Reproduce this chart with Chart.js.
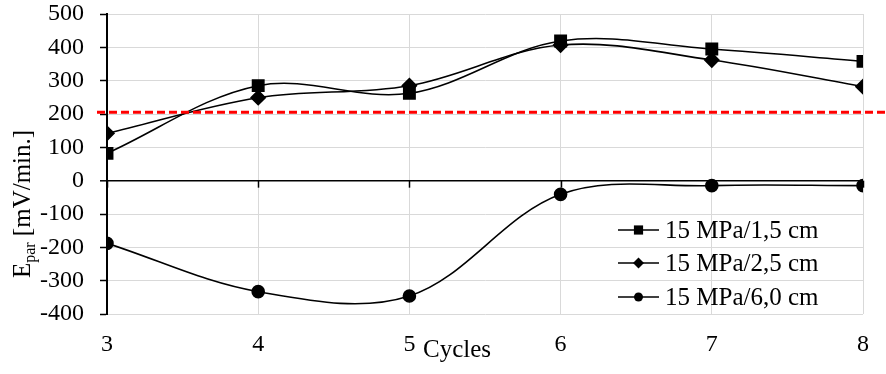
<!DOCTYPE html>
<html><head><meta charset="utf-8">
<script src="https://cdn.jsdelivr.net/npm/chart.js@4/dist/chart.umd.min.js"></script>
<style>html,body{margin:0;padding:0;background:#fff}#wrap{width:886px;height:374px}</style>
</head><body><div id="wrap"><canvas id="c" width="886" height="374"></canvas></div>
<script>
const cycles = [3, 4, 5, 6, 7, 8];
const seriesLabels = ['15 MPa/1,5 cm', '15 MPa/2,5 cm', '15 MPa/6,0 cm'];
const s15 = [82, 285, 262, 419, 395, 358];
const s25 = [142, 249, 285, 407, 362, 282];
const s60 = [-188, -333, -346, -41, -15, -15];
const threshold = 205;
const yTicks = [500, 400, 300, 200, 100, 0, -100, -200, -300, -400];
const xTitle = 'Cycles';
const yTitleMain = 'E', yTitleSub = 'par', yTitleRest = ' [mV/min.]';

const FONT = '"Liberation Serif", "Times New Roman", serif';
const FS = 24;
const FL = 25;
const styles = ['rect', 'rectRot', 'circle'];
const radii = [8, 7, 6];
const allSeries = [s15, s25, s60];

const datasets = allSeries.map((s, i) => ({
  label: seriesLabels[i],
  data: cycles.map((c, j) => ({x: c, y: s[j]})),
  borderColor: '#000', backgroundColor: '#000', borderWidth: 1.6,
  pointStyle: styles[i], pointRadius: radii[i], pointHoverRadius: radii[i],
  tension: 0.35, fill: false
}));

const extras = {
  id: 'extras',
  beforeDatasetsDraw(chart) {
    const ctx = chart.ctx, x = chart.scales.x, y = chart.scales.y;
    const y0 = y.getPixelForValue(0);
    ctx.save();
    ctx.strokeStyle = '#000'; ctx.lineWidth = 1.5;
    cycles.forEach(c => {
      const px = Math.round(x.getPixelForValue(c)) + 0.5;
      ctx.beginPath(); ctx.moveTo(px, y0); ctx.lineTo(px, y0 + 7); ctx.stroke();
    });
    ctx.restore();
  },
  afterDatasetsDraw(chart) {
    const ctx = chart.ctx, x = chart.scales.x, y = chart.scales.y;
    ctx.save();
    const yt = y.getPixelForValue(threshold);
    ctx.strokeStyle = '#ff0000'; ctx.lineWidth = 3; ctx.setLineDash([8, 4]);
    ctx.beginPath(); ctx.moveTo(x.left - 10, yt); ctx.lineTo(chart.width, yt); ctx.stroke();
    ctx.setLineDash([]);
    const lx0 = 618, lx1 = 659, ly = [230, 263, 297];
    ctx.font = FL + 'px ' + FONT; ctx.textBaseline = 'middle'; ctx.textAlign = 'left';
    datasets.forEach((d, i) => {
      ctx.strokeStyle = '#000'; ctx.lineWidth = 1.6;
      ctx.beginPath(); ctx.moveTo(lx0, ly[i]); ctx.lineTo(lx1, ly[i]); ctx.stroke();
      ctx.fillStyle = '#000';
      Chart.helpers.drawPoint(ctx, {pointStyle: styles[i], radius: radii[i] - 1.5, rotation: 0, borderWidth: 0}, (lx0 + lx1) / 2, ly[i]);
      ctx.fillStyle = '#000';
      ctx.fillText(d.label, 665, ly[i] + 1);
    });
    ctx.textAlign = 'center'; ctx.textBaseline = 'alphabetic';
    ctx.font = FL + 'px ' + FONT;
    ctx.fillText(xTitle, 457, 357);
    ctx.translate(30, 204); ctx.rotate(-Math.PI / 2);
    const fMain = FL + 'px ' + FONT, fSub = '16px ' + FONT;
    ctx.font = fMain; const wE = ctx.measureText(yTitleMain).width, wR = ctx.measureText(yTitleRest).width;
    ctx.font = fSub; const wS = ctx.measureText(yTitleSub).width;
    let sx = -(wE + wS + wR) / 2;
    ctx.textAlign = 'left';
    ctx.font = fMain; ctx.fillText(yTitleMain, sx, 0); sx += wE;
    ctx.font = fSub; ctx.fillText(yTitleSub, sx, 5); sx += wS;
    ctx.font = fMain; ctx.fillText(yTitleRest, sx, 0);
    ctx.restore();
  }
};

new Chart(document.getElementById('c'), {
  type: 'line',
  data: {datasets},
  options: {
    responsive: false, animation: false, devicePixelRatio: 1,
    layout: {padding: {left: 0, right: 23, top: 0, bottom: 0}},
    plugins: {legend: {display: false}, tooltip: {enabled: false}},
    scales: {
      x: {
        type: 'linear', min: 3, max: 8,
        afterFit(s) { s.height = 60; s.paddingLeft = 0; s.paddingRight = 0; },
        afterBuildTicks(s) { s.ticks = cycles.map(v => ({value: v})); },
        ticks: {color: '#000', font: {family: FONT, size: FS}, padding: 16, maxRotation: 0},
        grid: {color: ctx => ctx.index === 0 ? 'rgba(0,0,0,0)' : '#d9d9d9', lineWidth: 1, drawTicks: false},
        border: {display: false}
      },
      y: {
        type: 'linear', min: -400, max: 500,
        afterFit(s) { s.width = 107; s.paddingTop = 14; s.paddingBottom = 0; },
        afterBuildTicks(s) { s.ticks = yTicks.map(v => ({value: v})); },
        ticks: {color: '#000', font: {family: FONT, size: FS}, padding: 16},
        grid: {
          color: ctx => ctx.tick && ctx.tick.value === 0 ? '#000' : '#d9d9d9',
          lineWidth: ctx => ctx.tick && ctx.tick.value === 0 ? 1.6 : 1,
          tickColor: '#000', tickLength: 7, tickWidth: 1.5
        },
        border: {display: true, color: '#000', width: 2}
      }
    }
  },
  plugins: [extras]
});
</script></body></html>
